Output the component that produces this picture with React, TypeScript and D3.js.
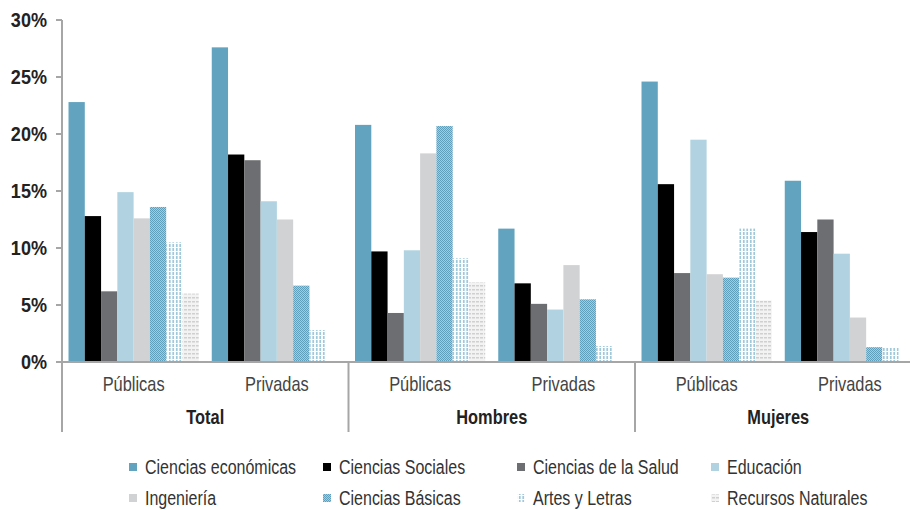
import React from 'react';
import * as d3 from 'd3';

// grupos y subgrupos del eje x
const groups = ['Total', 'Hombres', 'Mujeres'];
const subGroups = ['Públicas', 'Privadas'];

// series (orden: Total-Púb, Total-Priv, Hombres-Púb, Hombres-Priv, Mujeres-Púb, Mujeres-Priv)
const seriesNames = [
  'Ciencias económicas', 'Ciencias Sociales', 'Ciencias de la Salud', 'Educación',
  'Ingeniería', 'Ciencias Básicas', 'Artes y Letras', 'Recursos Naturales',
];
const economicas = [22.8, 27.6, 20.8, 11.7, 24.6, 15.9];
const sociales = [12.8, 18.2, 9.7, 6.9, 15.6, 11.4];
const salud = [6.2, 17.7, 4.3, 5.1, 7.8, 12.5];
const educacion = [14.9, 14.1, 9.8, 4.6, 19.5, 9.5];
const ingenieria = [12.6, 12.5, 18.3, 8.5, 7.7, 3.9];
const basicas = [13.6, 6.7, 20.7, 5.5, 7.4, 1.3];
const artes = [10.5, 2.8, 9.1, 1.4, 11.7, 1.3];
const recursos = [6.0, 0, 7.0, 0, 5.4, 0];
const yTicks = [0, 5, 10, 15, 20, 25, 30];

const seriesValues = [economicas, sociales, salud, educacion, ingenieria, basicas, artes, recursos];
const fills = [
  '#62a3bf', '#000000', '#6d6e71', '#b1d3e1', '#d1d2d4',
  'url(#pat-basicas)', 'url(#pat-artes)', 'url(#pat-recursos)',
];

const sans = '"Liberation Sans", Arial, sans-serif';

// texto "condensado": Liberation Sans comprimido en horizontal
const NarrowText = ({ x, y, anchor = 'start', size, weight = 'normal', fill, sx = 0.82, children }: any) => (
  <text transform={`translate(${x},${y}) scale(${sx},1)`} textAnchor={anchor}
    fontFamily={sans} fontSize={size} fontWeight={weight} fill={fill}>{children}</text>
);

const App = () => {
  const width = 910, height = 510;
  const left = 62, zeroY = 362, topY = 20;

  const y = d3.scaleLinear().domain([0, 30]).range([zeroY, topY]);
  const xGroup = d3.scaleBand<string>().domain(groups).range([left, left + 3 * 286.5]);
  const xSub = d3.scaleBand<string>().domain(subGroups).range([0, xGroup.bandwidth()]);
  const xSeries = d3.scaleBand<string>().domain(seriesNames).range([0, xSub.bandwidth()])
    .paddingInner(0).paddingOuter(0.4);

  const legendX = (i: number) => 129 + (i % 4) * 194;
  const legendY = (i: number) => (i < 4 ? 474 : 505);

  return (
    <svg width={width} height={height} style={{ position: 'absolute', left: 0, top: 0, background: '#fff' }}>
      <defs>
        <pattern id="pat-basicas" width="2" height="2" patternUnits="userSpaceOnUse">
          <rect width="2" height="2" fill="#a6cbdc" />
          <rect width="1" height="1" fill="#5f9fbb" />
          <rect x="1" y="1" width="1" height="1" fill="#5f9fbb" />
        </pattern>
        <pattern id="pat-artes" width="3.5" height="4" patternUnits="userSpaceOnUse">
          <rect width="3.5" height="4" fill="#ffffff" />
          <rect x="1" y="0" width="1.5" height="3" fill="#8fc0d6" />
        </pattern>
        <pattern id="pat-recursos" width="4" height="4" patternUnits="userSpaceOnUse">
          <rect width="4" height="4" fill="#f3f3f3" />
          <rect x="0" y="1" width="3" height="1.5" fill="#d0d0d0" />
        </pattern>
      </defs>

      {/* bars */}
      {groups.map((g, gi) =>
        subGroups.map((s, si) => {
          const idx = gi * 2 + si;
          const x0 = (xGroup(g) ?? 0) + (xSub(s) ?? 0);
          return seriesNames.map((name, k) => {
            const v = seriesValues[k][idx];
            if (!v) return null;
            return (
              <rect key={g + s + name} x={x0 + (xSeries(name) ?? 0)} y={y(v)}
                width={xSeries.bandwidth()} height={y(0) - y(v)} fill={fills[k]} />
            );
          });
        })
      )}

      {/* y axis */}
      <line x1={left} x2={left} y1={topY} y2={zeroY} stroke="#a6a6a6" strokeWidth={2} />
      {yTicks.map(t => (
        <g key={t}>
          <line x1={left - 6} x2={left} y1={y(t)} y2={y(t)} stroke="#a6a6a6" strokeWidth={2} />
          <NarrowText x={47} y={y(t) + 7} anchor="end" size={21} sx={0.86} weight="bold" fill="#222">{t}%</NarrowText>
        </g>
      ))}

      {/* x axis */}
      <line x1={left - 6} x2={width} y1={zeroY} y2={zeroY} stroke="#a6a6a6" strokeWidth={2} />
      {groups.map(g => (
        <line key={'sep' + g} x1={xGroup(g)} x2={xGroup(g)} y1={zeroY} y2={432} stroke="#a6a6a6" strokeWidth={2} />
      ))}
      {groups.map(g => (
        <g key={'lab' + g}>
          {subGroups.map(s => (
            <NarrowText key={s} x={(xGroup(g) ?? 0) + (xSub(s) ?? 0) + xSub.bandwidth() / 2} y={391}
              anchor="middle" size={20} fill="#444">{s}</NarrowText>
          ))}
          <NarrowText x={(xGroup(g) ?? 0) + xGroup.bandwidth() / 2} y={424} anchor="middle"
            size={20} weight="bold" fill="#222">{g}</NarrowText>
        </g>
      ))}

      {/* legend */}
      {seriesNames.map((name, i) => (
        <g key={'leg' + name}>
          <rect x={legendX(i)} y={legendY(i) - 11} width={8} height={8} fill={fills[i]} />
          <NarrowText x={legendX(i) + 16} y={legendY(i)} size={19.5} fill="#333">{name}</NarrowText>
        </g>
      ))}
    </svg>
  );
};

export default App;
